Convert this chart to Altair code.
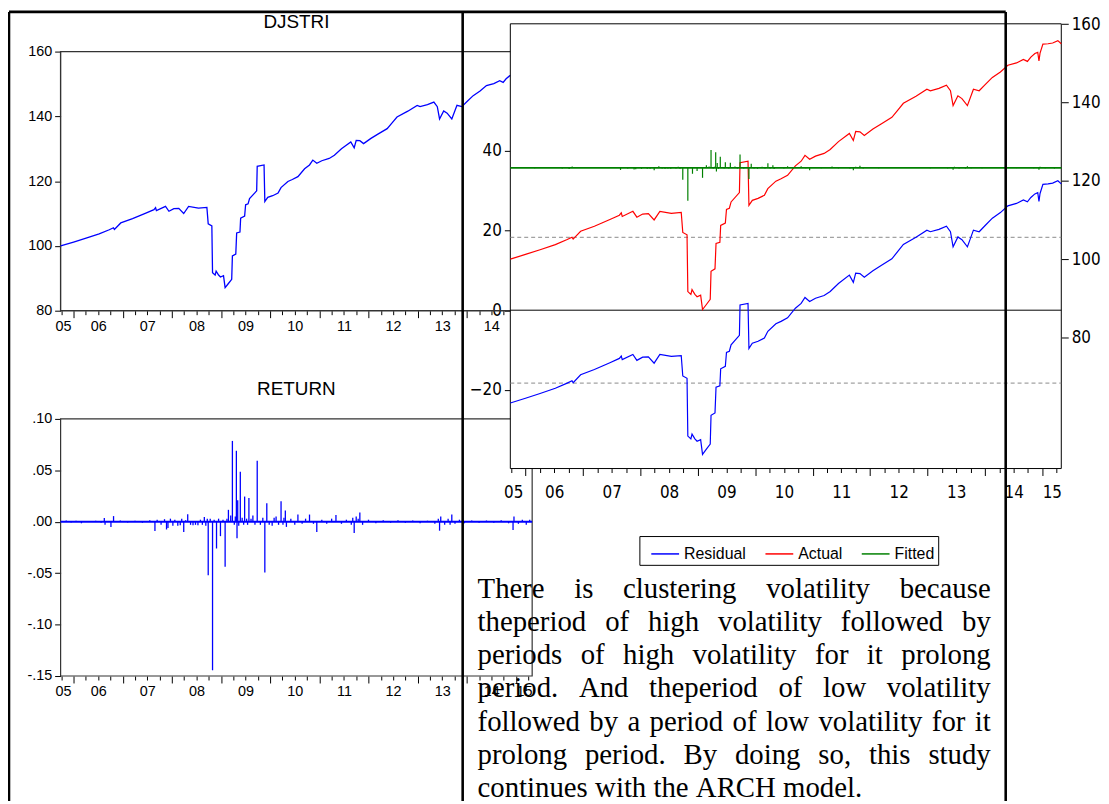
import altair as alt
import pandas as pd

# ------------------------------------------------------------------ data
T_START, T_END = 2005.736, 2015.33

# DJSTRI index (decimal year, value)
DJ_T = [2005.736, 2006.00, 2006.254, 2006.52, 2006.726, 2006.81, 2006.83, 2006.96, 2007.20, 2007.47,
        2007.635, 2007.668, 2007.685, 2007.87, 2007.94, 2008.04, 2008.14, 2008.24, 2008.34, 2008.54,
        2008.712, 2008.739, 2008.813, 2008.827, 2008.88, 2008.90, 2008.95, 2008.988, 2009.05, 2009.083,
        2009.15, 2009.217, 2009.231, 2009.30, 2009.318, 2009.385, 2009.399, 2009.48, 2009.50, 2009.55,
        2009.58, 2009.725, 2009.736, 2009.875, 2009.891, 2009.95, 2010.05, 2010.16, 2010.22, 2010.36,
        2010.45, 2010.564, 2010.70, 2010.80, 2010.867, 2010.948, 2011.05, 2011.20, 2011.306, 2011.45,
        2011.64, 2011.709, 2011.75, 2011.824, 2011.90, 2012.05, 2012.20, 2012.38, 2012.48, 2012.58,
        2012.80, 2012.99, 2013.05, 2013.20, 2013.33, 2013.40, 2013.446, 2013.53, 2013.60, 2013.695,
        2013.80, 2013.90, 2014.00, 2014.13, 2014.27, 2014.40, 2014.55, 2014.67, 2014.74, 2014.80,
        2014.87, 2014.92, 2014.941, 2014.96, 2015.01, 2015.10, 2015.18, 2015.27, 2015.33]
DJ_V = [100.0, 101.2, 102.4, 103.7, 105.0, 105.6, 105.1, 107.1, 108.4, 110.1,
        111.2, 111.8, 110.9, 112.2, 110.7, 111.5, 111.6, 110.0, 112.2, 111.7,
        111.9, 106.8, 106.2, 91.7, 91.0, 92.2, 91.0, 90.4, 90.8, 87.1,
        88.4, 89.7, 96.9, 97.5, 104.0, 104.3, 108.6, 109.2, 112.7, 113.0,
        114.6, 117.0, 124.6, 125.0, 113.7, 115.0, 115.5, 116.3, 118.0, 119.9,
        120.5, 121.4, 123.8, 125.0, 126.5, 125.5, 126.3, 127.0, 128.0, 130.0,
        132.1, 130.3, 132.6, 132.5, 131.6, 133.2, 134.6, 136.2, 138.0, 139.8,
        141.6, 143.4, 143.0, 143.6, 144.4, 143.0, 139.2, 141.7, 141.0, 139.2,
        143.4, 143.0, 144.5, 146.4, 147.8, 149.5, 150.1, 151.0, 150.5, 151.6,
        152.5, 152.8, 150.6, 152.6, 154.9, 155.0, 155.2, 155.8, 155.0]

# RETURN series: spikes away from zero (decimal year, value)
RET_T = [2005.85, 2005.95, 2006.05, 2006.16, 2006.30, 2006.45, 2006.56, 2006.625, 2006.64, 2006.76,
         2006.813, 2006.95, 2007.10, 2007.25, 2007.40, 2007.55, 2007.655, 2007.70, 2007.78, 2007.85,
         2007.891, 2007.92, 2007.97, 2008.02, 2008.06, 2008.12, 2008.17, 2008.20, 2008.241, 2008.28,
         2008.322, 2008.38, 2008.43, 2008.48, 2008.53, 2008.58, 2008.62, 2008.66, 2008.69, 2008.72,
         2008.739, 2008.78, 2008.827, 2008.86, 2008.908, 2008.95, 2008.988, 2009.04, 2009.083, 2009.12,
         2009.150, 2009.197, 2009.231, 2009.27, 2009.29, 2009.312, 2009.325, 2009.339, 2009.36, 2009.392,
         2009.43, 2009.46, 2009.480, 2009.52, 2009.54, 2009.567, 2009.61, 2009.648, 2009.69, 2009.736,
         2009.80, 2009.85, 2009.891, 2009.931, 2009.98, 2010.04, 2010.08, 2010.12, 2010.17, 2010.221,
         2010.26, 2010.28, 2010.308, 2010.33, 2010.42, 2010.50, 2010.564, 2010.65, 2010.72, 2010.800,
         2010.88, 2010.948, 2011.05, 2011.15, 2011.25, 2011.338, 2011.45, 2011.55, 2011.65, 2011.68,
         2011.709, 2011.75, 2011.79, 2011.824, 2011.88, 2012.00, 2012.15, 2012.30, 2012.45, 2012.60,
         2012.75, 2012.90, 2013.05, 2013.20, 2013.35, 2013.42, 2013.446, 2013.47, 2013.55, 2013.62,
         2013.66, 2013.695, 2013.76, 2013.85, 2013.95, 2014.10, 2014.25, 2014.40, 2014.55, 2014.70,
         2014.85, 2014.941, 2014.96, 2015.05, 2015.13, 2015.21, 2015.28]
RET_V = [0.0012, -0.0008, 0.0010, -0.0015, 0.0008, 0.0010, -0.0010, 0.0036, -0.0030, -0.0050,
         0.0055, 0.0012, -0.0008, 0.0010, -0.0010, 0.0015, -0.0090, 0.0020, -0.0030, 0.0025,
         -0.0075, -0.0060, 0.0030, -0.0040, 0.0020, -0.0040, -0.0035, 0.0030, -0.0100, 0.0015,
         0.0074, -0.0030, -0.0035, -0.0030, -0.0035, 0.0020, -0.0030, 0.0045, -0.0040, 0.0030,
         -0.0520, 0.0030, -0.1444, 0.0020, -0.0260, 0.0030, -0.0140, 0.0020, -0.0438, 0.0030,
         0.0116, 0.0060, 0.0786, -0.0030, 0.0050, 0.0690, -0.0160, 0.0210, -0.0040, 0.0487,
         0.0040, -0.0030, 0.0245, 0.0030, -0.0030, 0.0230, 0.0030, 0.0060, -0.0030, 0.0593,
         -0.0030, 0.0040, -0.0493, 0.0180, -0.0030, -0.0040, 0.0040, 0.0050, -0.0030, 0.0200,
         -0.0030, 0.0040, 0.0110, -0.0050, 0.0030, -0.0030, 0.0070, -0.0020, 0.0030, 0.0070,
         -0.0020, -0.0100, 0.0020, -0.0020, 0.0030, 0.0065, -0.0020, 0.0020, -0.0030, 0.0040,
         -0.0110, 0.0050, 0.0030, 0.0090, -0.0030, 0.0020, -0.0015, 0.0015, -0.0010, 0.0015,
         -0.0010, 0.0012, -0.0015, 0.0010, -0.0020, 0.0030, -0.0087, 0.0050, -0.0030, 0.0030,
         -0.0030, 0.0070, -0.0020, 0.0020, -0.0015, 0.0012, -0.0010, 0.0012, -0.0010, 0.0015,
         -0.0015, -0.0080, 0.0050, -0.0020, 0.0020, -0.0030, 0.0020]
assert len(DJ_T) == len(DJ_V) and len(RET_T) == len(RET_V)

YEAR_STARTS = [2006, 2007, 2008, 2009, 2010, 2011, 2012, 2013, 2014, 2015]
YEAR_LABELS = ["05", "06", "07", "08", "09", "10", "11", "12", "13", "14", "15"]
DJ_TICKS = [160, 140, 120, 100, 80]
RET_TICKS = [0.10, 0.05, 0.0, -0.05, -0.10, -0.15]
RET_TICK_LABELS = [".10", ".05", ".00", "-.05", "-.10", "-.15"]
RES_LEFT_TICKS = [40, 20, 0, -20, -40]
RES_RIGHT_TICKS = [160, 140, 120, 100, 80]
FIT_CONST = 123.3      # fitted level (right axis)
FIT_SLOPE = 58.0       # fitted response to RETURN
RESID_SE = 18.3        # +/- 1 S.E. band of the residual
SERIES = ["Residual", "Actual", "Fitted"]
SERIES_COLORS = ["#0000ff", "#ff0000", "#008000"]

TITLE_DJ = "DJSTRI"
TITLE_RET = "RETURN"
PARA_LINES = [
    "There is clustering volatility because",
    "theperiod of high volatility followed by",
    "periods of high volatility for it prolong",
    "period. And theperiod of low volatility",
    "followed by a period of low volatility for it",
    "prolong period. By doing so, this study",
    "continues with the ARCH model.",
]

# ------------------------------------------------------------------ layout
W, H = 1101, 796
OX, OY = 8, 8


def px(x):
    return x - OX


def py(y):
    return y - OY


SANS = "Liberation Sans, Arial, sans-serif"
NARROW = "Liberation Sans Narrow, Arial Narrow, DejaVu Sans Condensed, Liberation Sans, sans-serif"
SERIF = "Liberation Serif, Times New Roman, serif"


def sc(dom, rng):
    return alt.Scale(domain=dom, range=rng, nice=False, zero=False)


DJX = sc([T_START, T_END], [px(61), px(536)])
DJY = sc([80, 160], [py(310), py(49)])
RETX = sc([T_START, T_END], [px(61), px(536)])
RETY = sc([-0.15, 0.10], [py(678), py(419)])
RESX = sc([T_START, T_END], [px(514), px(1069)])
RESYL = sc([-39.75, 71.9], [py(469), py(21)])
RESYR = sc([46.5, 160.1], [py(469), py(21)])

LABEL_POS = [round(T_START + 0.05, 4)] + [y + 0.5 for y in YEAR_STARTS[:-1]] + [round((2015 + T_END) / 2, 4)]
QUARTERS = [round(y + q * 0.25, 2) for y in range(2005, 2016) for q in (1, 2, 3)
            if T_START <= y + q * 0.25 <= T_END]


def lookup(values, labels):
    vals = ",".join(repr(float(v)) for v in values)
    labs = ",".join("'" + s + "'" for s in labels)
    return "[" + labs + "][indexof([" + vals + "], datum.value)]"


def x_axes(y_page, font, size, pad, major, minor):
    off = py(y_page) - H
    common = dict(orient="bottom", offset=off, domain=False, grid=False, title=None)
    a_major = alt.Axis(values=YEAR_STARTS, labels=False, tickSize=major, tickColor="black", **common)
    a_minor = alt.Axis(values=QUARTERS, labels=False, tickSize=minor, tickColor="black", **common)
    a_lab = alt.Axis(values=LABEL_POS, ticks=False, tickSize=0, labelExpr=lookup(LABEL_POS, YEAR_LABELS),
                     labelFont=font, labelFontSize=size, labelColor="black", labelPadding=pad,
                     labelFlush=False, labelOverlap=False, labelBound=False, labelAlign="center",
                     labelBaseline="top", **common)
    return [a_major, a_minor, a_lab]


def y_axis(orient, x_page, values, font, size, tick, pad, expr=None):
    off = -px(x_page) if orient == "left" else px(x_page) - W
    kw = dict(orient=orient, offset=off, values=values, domain=False, grid=False, title=None,
              tickSize=tick, tickColor="black", labelFont=font, labelFontSize=size,
              labelColor="black", labelPadding=pad, labelOverlap=False)
    if expr:
        kw["labelExpr"] = expr
    return alt.Axis(**kw)


def x_axis_layer(xs, axis):
    df = pd.DataFrame({"t": [T_START, T_END]})
    return alt.Chart(df).mark_point(opacity=0).encode(x=alt.X("t:Q", scale=xs, axis=axis))


def y_axis_layer(ys, values, axis):
    df = pd.DataFrame({"v": values})
    return alt.Chart(df).mark_point(opacity=0).encode(y=alt.Y("v:Q", scale=ys, axis=axis))


def frame(xs, ys, v0, v1, filled, color="black", width=1.0):
    df = pd.DataFrame({"t0": [T_START], "t1": [T_END], "v0": [v0], "v1": [v1]})
    m = alt.Chart(df).mark_rect(fill="white", fillOpacity=1 if filled else 0,
                                stroke=color, strokeWidth=width)
    return m.encode(x=alt.X("t0:Q", scale=xs, axis=None), x2="t1:Q",
                    y=alt.Y("v0:Q", scale=ys, axis=None), y2="v1:Q")


def title_layer(xs, text, y_page):
    df = pd.DataFrame({"t": [(T_START + T_END) / 2], "label": [text]})
    return alt.Chart(df).mark_text(font=SANS, fontSize=19, align="center", baseline="alphabetic",
                                   color="black").encode(
        x=alt.X("t:Q", scale=xs, axis=None), y=alt.value(py(y_page)), text="label:N")


layers = []

# ------------------------------------------------------------ DJSTRI panel
dj_df = pd.DataFrame({"t": DJ_T, "v": DJ_V})
layers.append(frame(DJX, DJY, 80, 160, False, "#333333", 1.4))
layers.append(alt.Chart(dj_df).mark_line(color="#0000ff", strokeWidth=1.3).encode(
    x=alt.X("t:Q", scale=DJX, axis=None), y=alt.Y("v:Q", scale=DJY, axis=None)))
for ax in x_axes(310, SANS, 14.5, 9, 7, 4):
    layers.append(x_axis_layer(DJX, ax))
layers.append(y_axis_layer(DJY, DJ_TICKS, y_axis("left", 61, DJ_TICKS, SANS, 14.5, 6, 3)))
layers.append(title_layer(DJX, TITLE_DJ, 25.5))

# ------------------------------------------------------------ RETURN panel
ret_df = pd.DataFrame({"t": RET_T, "v": RET_V, "zero": 0.0})
base_df = pd.DataFrame({"t0": [T_START], "t1": [T_END], "v": [0.0]})
layers.append(frame(RETX, RETY, -0.15, 0.10, False, "#333333", 1.2))
layers.append(alt.Chart(base_df).mark_rule(color="#0000ff", strokeWidth=2).encode(
    x=alt.X("t0:Q", scale=RETX, axis=None), x2="t1:Q", y=alt.Y("v:Q", scale=RETY, axis=None)))
layers.append(alt.Chart(ret_df).mark_rule(color="#0000ff", strokeWidth=1.3).encode(
    x=alt.X("t:Q", scale=RETX, axis=None), y=alt.Y("v:Q", scale=RETY, axis=None), y2="zero:Q"))
for ax in x_axes(678, SANS, 14.5, 9, 7, 4):
    layers.append(x_axis_layer(RETX, ax))
layers.append(y_axis_layer(RETY, RET_TICKS, y_axis("left", 61, RET_TICKS, SANS, 14.5, 6, 3,
                                                   lookup(RET_TICKS, RET_TICK_LABELS))))
layers.append(title_layer(RETX, TITLE_RET, 395))

# ------------------------------------------------------------ Residual / Actual / Fitted panel
COLOR_SCALE = alt.Scale(domain=SERIES, range=SERIES_COLORS)
LEGEND = alt.Legend(orient="none", legendX=px(644), legendY=py(537), direction="horizontal",
                    title=None, symbolType="stroke", symbolSize=784, symbolStrokeWidth=1.5,
                    symbolOffset=8, labelFont=SANS, labelFontSize=16, labelColor="black",
                    labelExpr="datum.label == 'Fitted' ? datum.label + '\u00a0' : datum.label",
                    strokeColor="black", fillColor="white", padding=3, columnPadding=10,
                    labelOffset=4)


def color_enc():
    return alt.Color("series:N", scale=COLOR_SCALE, legend=LEGEND)


layers.append(frame(RESX, RESYL, -39.75, 71.9, True))
band_df = pd.DataFrame({"t0": [T_START, T_START], "t1": [T_END, T_END], "v": [RESID_SE, -RESID_SE]})
layers.append(alt.Chart(band_df).mark_rule(color="#8a8a8a", strokeWidth=1, strokeDash=[4, 3]).encode(
    x=alt.X("t0:Q", scale=RESX, axis=None), x2="t1:Q", y=alt.Y("v:Q", scale=RESYL, axis=None)))
zero_df = pd.DataFrame({"t0": [T_START], "t1": [T_END], "v": [0.0]})
layers.append(alt.Chart(zero_df).mark_rule(color="black", strokeWidth=1).encode(
    x=alt.X("t0:Q", scale=RESX, axis=None), x2="t1:Q", y=alt.Y("v:Q", scale=RESYL, axis=None)))

resid_df = pd.DataFrame({"t": DJ_T, "v": [a - FIT_CONST for a in DJ_V], "series": SERIES[0]})
act_df = pd.DataFrame({"t": DJ_T, "v": DJ_V, "series": SERIES[1]})
fit_base_df = pd.DataFrame({"t0": [T_START], "t1": [T_END], "v": [FIT_CONST], "series": [SERIES[2]]})
fit_sp_df = pd.DataFrame({"t": RET_T, "v": [FIT_CONST + FIT_SLOPE * r for r in RET_V],
                          "base": FIT_CONST, "series": SERIES[2]})

layers.append(alt.Chart(resid_df).mark_line(strokeWidth=1.2).encode(
    x=alt.X("t:Q", scale=RESX, axis=None), y=alt.Y("v:Q", scale=RESYL, axis=None), color=color_enc()))
layers.append(alt.Chart(act_df).mark_line(strokeWidth=1.2).encode(
    x=alt.X("t:Q", scale=RESX, axis=None), y=alt.Y("v:Q", scale=RESYR, axis=None), color=color_enc()))
layers.append(alt.Chart(fit_base_df).mark_rule(strokeWidth=1.8).encode(
    x=alt.X("t0:Q", scale=RESX, axis=None), x2="t1:Q", y=alt.Y("v:Q", scale=RESYR, axis=None),
    color=color_enc()))
layers.append(alt.Chart(fit_sp_df).mark_rule(strokeWidth=1.2).encode(
    x=alt.X("t:Q", scale=RESX, axis=None), y=alt.Y("v:Q", scale=RESYR, axis=None), y2="base:Q",
    color=color_enc()))
for ax in x_axes(469, NARROW, 17, 16, 7, 4):
    layers.append(x_axis_layer(RESX, ax))
layers.append(y_axis_layer(RESYL, RES_LEFT_TICKS, y_axis("left", 514, RES_LEFT_TICKS, NARROW, 17, 6, 3)))
layers.append(y_axis_layer(RESYR, RES_RIGHT_TICKS, y_axis("right", 1069, RES_RIGHT_TICKS, NARROW, 17, 7, 3)))

# ------------------------------------------------------------ document table lines
top_y = max(py(7), 1)
left_x = max(px(7), 1)
doc_df = pd.DataFrame({
    "x": [left_x, left_x, px(466), px(1013)],
    "y": [top_y, top_y, top_y, top_y],
    "x2": [px(1013), left_x, px(466), px(1013)],
    "y2": [top_y, H, H, H],
})
layers.append(alt.Chart(doc_df).mark_rule(color="black", strokeWidth=2.6).encode(
    x=alt.X("x:Q", scale=None), y=alt.Y("y:Q", scale=None), x2="x2:Q", y2="y2:Q"))

# ------------------------------------------------------------ justified paragraph
TW = {'a': 444, 'b': 500, 'c': 444, 'd': 500, 'e': 444, 'f': 333, 'g': 500, 'h': 500, 'i': 278,
      'j': 278, 'k': 500, 'l': 278, 'm': 778, 'n': 500, 'o': 500, 'p': 500, 'q': 500, 'r': 333,
      's': 389, 't': 278, 'u': 500, 'v': 500, 'w': 722, 'x': 500, 'y': 500, 'z': 444, 'A': 722,
      'B': 667, 'C': 667, 'D': 722, 'H': 722, 'R': 667, 'T': 611, ' ': 250, '.': 250, ',': 250}
P_SIZE = 29
P_X0, P_X1 = px(481), px(998)
P_BASE, P_STEP = py(599), 33.5


def tw(s):
    return sum(TW.get(c, 500) for c in s) / 1000.0 * P_SIZE


rows = []
for i, line in enumerate(PARA_LINES):
    words = line.split(" ")
    yb = P_BASE + i * P_STEP
    if i == len(PARA_LINES) - 1 or len(words) == 1:
        gap = tw(" ")
    else:
        gap = (P_X1 - P_X0 - sum(tw(w) for w in words)) / (len(words) - 1)
    x = P_X0
    for w in words:
        rows.append({"word": w, "x": x, "y": yb})
        x += tw(w) + gap
para_df = pd.DataFrame(rows)
layers.append(alt.Chart(para_df).mark_text(font=SERIF, fontSize=P_SIZE, align="left",
                                           baseline="alphabetic", color="black").encode(
    x=alt.X("x:Q", scale=None), y=alt.Y("y:Q", scale=None), text="word:N"))

chart = alt.layer(*layers).resolve_scale(x="independent", y="independent").properties(
    width=W, height=H, padding=0, autosize=alt.AutoSizeParams(type="none"),
).configure_view(strokeOpacity=0)

chart.save("out.html", embed_options={"renderer": "svg", "actions": False})
